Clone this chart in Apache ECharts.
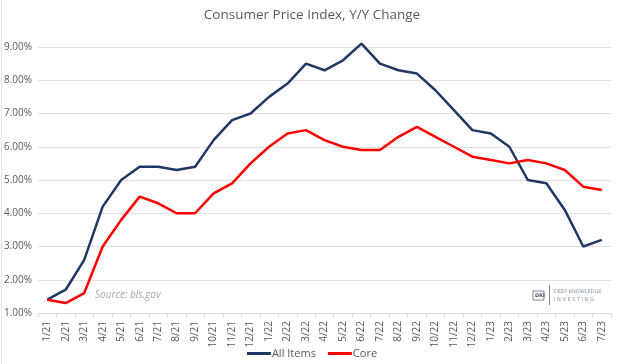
<!DOCTYPE html>
<html><head><meta charset="utf-8">
<script src="https://cdn.jsdelivr.net/npm/echarts@6/dist/echarts.min.js"></script>
<style>html,body{margin:0;padding:0;background:#fff}#c{width:624px;height:364px}</style>
</head><body><div id="c"></div>
<script>
var categories = ['1/21','2/21','3/21','4/21','5/21','6/21','7/21','8/21','9/21','10/21','11/21','12/21','1/22','2/22','3/22','4/22','5/22','6/22','7/22','8/22','9/22','10/22','11/22','12/22','1/23','2/23','3/23','4/23','5/23','6/23','7/23'];
var allItems = [1.4,1.7,2.6,4.2,5.0,5.4,5.4,5.3,5.4,6.2,6.8,7.0,7.5,7.9,8.5,8.3,8.6,9.1,8.5,8.3,8.2,7.7,7.1,6.5,6.4,6.0,5.0,4.9,4.1,3.0,3.2];
var core = [1.4,1.3,1.6,3.0,3.8,4.5,4.3,4.0,4.0,4.6,4.9,5.5,6.0,6.4,6.5,6.2,6.0,5.9,5.9,6.3,6.6,6.3,6.0,5.7,5.6,5.5,5.6,5.5,5.3,4.8,4.7];
var titleText = 'Consumer Price Index, Y/Y Change';
var sourceText = 'Source: bls.gov';

var chart = echarts.init(document.getElementById('c'), null, {renderer:'canvas'});
var txt = '#595959';
chart.setOption({
  animation:false,
  backgroundColor:'#fff',
  title:{text:titleText,left:'center',top:3,textStyle:{fontFamily:'Open Sans',fontSize:13.5,fontWeight:'normal',color:txt}},
  legend:{bottom:0,left:'center',itemWidth:24,itemHeight:3,itemGap:12,icon:'rect',
    textStyle:{fontFamily:'Open Sans',fontSize:11,color:txt,padding:[0,0,0,-4]},
    data:['All Items','Core']},
  grid:{left:38,right:13,top:47,bottom:51},
  xAxis:{type:'category',data:categories,boundaryGap:true,
    axisLine:{lineStyle:{color:'#d9d9d9'}},
    axisTick:{show:true,length:4,lineStyle:{color:'#d9d9d9'}},
    axisLabel:{rotate:90,fontFamily:'Open Sans',fontSize:10,color:txt,margin:8,interval:0}},
  yAxis:{type:'value',min:1,max:9,interval:1,
    axisLine:{show:false},axisTick:{show:false},
    splitLine:{lineStyle:{color:'#e0e0e0'}},
    axisLabel:{fontFamily:'Open Sans',fontSize:10,color:txt,margin:6,formatter:function(v){return v.toFixed(2)+'%';}}},
  series:[
    {name:'All Items',type:'line',data:allItems,symbol:'none',clip:false,lineStyle:{width:2.5,color:'#203864'},itemStyle:{color:'#203864'}},
    {name:'Core',type:'line',data:core,symbol:'none',clip:false,lineStyle:{width:2.5,color:'#ff0000'},itemStyle:{color:'#ff0000'}}
  ],
  graphic:[
    {type:'line',shape:{x1:1.5,y1:0,x2:1.5,y2:364},style:{stroke:'#e6e6e6',lineWidth:1}},
    {type:'text',left:95,top:290,style:{text:sourceText,fontFamily:'Open Sans',fontStyle:'italic',fontSize:10,fill:'#a6a6a6'}},
    {type:'rect',shape:{x:533,y:291,width:11,height:9},style:{fill:'#fff',stroke:'#7f8a99',lineWidth:1}},
    {type:'text',x:535,y:293,style:{text:'DKI',fontSize:5,fontFamily:'DejaVu Sans',fill:'#44546a',fontWeight:'bold'}},
    {type:'line',shape:{x1:549.5,y1:285,x2:549.5,y2:305},style:{stroke:'#7f8a99',lineWidth:1}},
    {type:'text',x:554,y:289,style:{text:'DEEP KNOWLEDGE',fontSize:5,fontFamily:'DejaVu Sans',fill:'#8a94a3'}},
    {type:'text',x:554,y:297,style:{text:'I N V E S T I N G',fontSize:5,fontFamily:'DejaVu Sans',fill:'#8a94a3'}}
  ]
});
</script></body></html>
